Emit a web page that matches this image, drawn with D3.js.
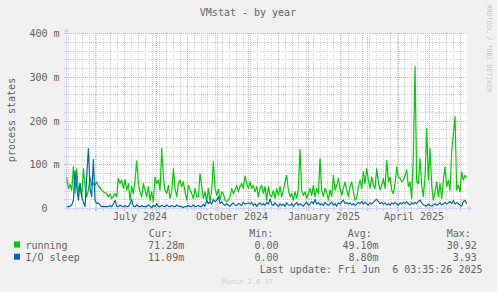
<!DOCTYPE html>
<html><head><meta charset="utf-8">
<script src="https://cdn.jsdelivr.net/npm/d3@7"></script>
<style>
html,body{margin:0;padding:0;background:#f0f0f0;}
svg{display:block;}
text{font-family:"DejaVu Sans Mono",monospace;fill:#666;white-space:pre;}
</style></head><body>
<svg id="c" width="497" height="292"></svg>
<script>
const chartTitle = "VMstat - by year";
const yAxisTitle = "process states";
const yMajorTicks = [0, 100, 200, 300, 400];
const yTickLabels = ["0", "100 m", "200 m", "300 m", "400 m"];
const xLabelMonths = ["2024-07-01", "2024-10-01", "2025-01-01", "2025-04-01"];
const xLabels = ["July 2024", "October 2024", "January 2025", "April 2025"];
const seriesNames = ["running", "I/O sleep"];
const seriesColors = ["#00cc00", "#0066b3"];
const curValues = ["71.28m", "11.09m"];
const minValues = ["0.00", "0.00"];
const avgValues = ["49.10m", "8.80m"];
const maxValues = ["30.92", "3.93"];
const lastUpdate = "Last update: Fri Jun  6 03:35:26 2025";
const watermark = "RRDTOOL / TOBI OETIKER";
const muninVersion = "Munin 2.0.37";

// sample time axis: first sample and spacing (hours)
const firstSample = "2024-05-03T17:00:00Z";
const sampleHours = 40;

// running processes (milli-units)
const running = [
72,46,55,42,95,35,91,38,57,26,
91,52,26,42,72,53,57,53,61,51,
48,42,38,36,34,27,33,23,27,34,
27,69,57,65,46,66,42,57,19,50,
34,65,109,57,38,27,57,42,27,50,
19,38,15,72,57,65,42,137,72,42,
34,53,23,38,91,46,27,57,65,50,
61,38,19,53,42,34,23,46,27,27,
80,50,23,38,15,46,15,42,107,46,
30,44,19,38,34,19,15,19,27,46,
34,42,53,38,50,57,46,74,57,46,
61,46,53,38,50,27,46,53,34,50,
19,50,30,27,42,23,46,30,50,27,
42,61,76,42,27,34,19,38,23,46,
135,42,30,38,23,34,46,30,53,27,
46,34,114,42,27,46,38,19,42,27,
76,42,53,69,46,30,46,61,42,27,
50,61,38,19,23,50,65,46,84,57,
91,65,46,72,53,46,91,61,42,53,
69,46,110,61,72,42,34,57,95,72,
69,61,65,76,88,50,61,23,120,325,
60,57,114,53,27,72,183,65,137,53,
19,38,61,27,57,23,65,95,50,65,
42,133,171,210,42,53,38,84,65,76,
71];

// I/O sleep (milli-units)
const ioSleep = [
5,4,5,8,19,86,50,19,57,27,
15,4,72,137,45,27,112,19,11,13,
8,4,5,4,5,4,7,4,10,19,
5,4,8,5,4,7,4,5,10,21,
5,4,8,5,4,7,4,5,4,8,
5,2,7,4,11,5,4,7,5,4,
8,5,4,7,5,4,8,5,5,4,
2,5,4,7,4,5,8,4,5,7,
4,5,10,5,19,11,15,10,21,15,
19,27,11,15,10,7,11,8,5,10,
13,8,7,11,10,7,14,10,11,13,
10,14,7,11,5,10,13,8,11,7,
14,10,22,10,7,13,8,5,11,7,
10,5,13,8,7,11,5,10,14,7,
11,8,5,11,14,7,10,16,11,21,
10,14,8,11,7,14,10,7,11,14,
8,11,5,13,10,16,19,11,14,10,
13,8,11,7,10,14,11,16,10,14,
11,8,13,10,14,18,21,16,11,14,
10,13,8,11,7,13,10,14,11,8,
13,10,14,11,16,11,8,13,10,14,
11,16,19,13,8,7,5,10,7,5,
8,11,7,10,13,8,11,14,10,13,
16,11,19,10,14,11,7,5,16,19,
11];

const svg = d3.select("#c");
const t0 = new Date(firstSample).getTime();
const dateAt = i => new Date(t0 + i * sampleHours * 3600e3);

const x = d3.scaleUtc()
  .domain([new Date(Date.UTC(2024, 4, 4)), new Date(Date.UTC(2025, 5, 8))])
  .range([67, 467]);
const y = d3.scaleLinear().domain([0, 400]).range([208.5, 33.5]);
const px = v => Math.round(v - 0.5) + 0.5;

// canvas
svg.append("rect").attr("x", 67).attr("y", 33).attr("width", 400).attr("height", 176).attr("fill", "#fff");

const grid = svg.append("g");
const minorCol = "#d2d2d2";
const majorCol = "#f0a8a8";

// horizontal minor grid
d3.range(0, 401, 20).filter(v => v % 100 !== 0).forEach(v => {
  const yy = px(y(v));
  grid.append("line").attr("x1", 64).attr("x2", 67).attr("y1", yy).attr("y2", yy).attr("stroke", minorCol);
  grid.append("line").attr("x1", 67).attr("x2", 467).attr("y1", yy).attr("y2", yy)
    .attr("stroke", minorCol).attr("stroke-dasharray", "1,1");
});
// vertical minor grid (weekly)
const [d0, d1] = x.domain();
d3.utcSunday.range(d0, d1).forEach(d => {
  const xx = px(x(d));
  grid.append("line").attr("x1", xx).attr("x2", xx).attr("y1", 208).attr("y2", 211).attr("stroke", minorCol);
  grid.append("line").attr("x1", xx).attr("x2", xx).attr("y1", 33).attr("y2", 208)
    .attr("stroke", minorCol).attr("stroke-dasharray", "1,1");
});
// vertical major grid (monthly)
d3.utcMonth.range(d0, d1).forEach(d => {
  const xx = px(x(d));
  grid.append("line").attr("x1", xx).attr("x2", xx).attr("y1", 208).attr("y2", 211).attr("stroke", majorCol);
  grid.append("line").attr("x1", xx).attr("x2", xx).attr("y1", 33).attr("y2", 208)
    .attr("stroke", majorCol).attr("stroke-dasharray", "1,1");
});
// horizontal major grid
yMajorTicks.forEach(v => {
  const yy = px(y(v));
  grid.append("line").attr("x1", 64).attr("x2", 67).attr("y1", yy).attr("y2", yy).attr("stroke", majorCol);
  grid.append("line").attr("x1", 67).attr("x2", 467).attr("y1", yy).attr("y2", yy)
    .attr("stroke", majorCol).attr("stroke-dasharray", "1,1");
});

// axes
const axisCol = "#CFD6F8";
svg.append("line").attr("x1", 66.5).attr("x2", 66.5).attr("y1", 210).attr("y2", 29).attr("stroke", axisCol);
svg.append("polygon").attr("points", "63.5,32 69.5,32 66.5,27").attr("fill", axisCol);
svg.append("line").attr("x1", 63).attr("x2", 470).attr("y1", 208.5).attr("y2", 208.5).attr("stroke", axisCol);
svg.append("polygon").attr("points", "468,205.5 468,211.5 473,208.5").attr("fill", axisCol);

// y labels
yMajorTicks.forEach((v, i) => {
  const lab = yTickLabels[i];
  svg.append("text").attr("x", lab.indexOf(" ") < 0 ? 47.5 : 59.5).attr("y", px(y(v)) + 3.5)
    .attr("text-anchor", "end").attr("font-size", 10).text(lab);
});
// x labels (centered half a month after tick)
xLabelMonths.forEach((m, i) => {
  const d = new Date(m + "T00:00:00Z");
  const c = new Date(d.getTime() + 15 * 86400e3);
  svg.append("text").attr("x", x(c)).attr("y", 219.5).attr("text-anchor", "middle")
    .attr("font-size", 10).text(xLabels[i]);
});

// series
const line = d3.line().x((d, i) => x(dateAt(i))).y(d => y(d));
[running, ioSleep].forEach((s, k) => {
  svg.append("path").datum(s).attr("d", line).attr("fill", "none")
    .attr("stroke", seriesColors[k]).attr("stroke-width", 1.2).attr("stroke-linejoin", "round");
});

// titles
svg.append("text").attr("x", 248).attr("y", 16).attr("text-anchor", "middle").attr("font-size", 10).text(chartTitle);
svg.append("text").attr("transform", "translate(15,120) rotate(-90)").attr("text-anchor", "middle")
  .attr("font-size", 10).text(yAxisTitle);
svg.append("text").attr("transform", "translate(487,48.5) rotate(90)").attr("text-anchor", "middle")
  .attr("font-size", 6.6).style("fill", "#c4c4c4").text(watermark);

// legend
const hdrY = 236.5;
svg.append("text").attr("x", 148.7).attr("y", hdrY).attr("font-size", 10).text("Cur:");
svg.append("text").attr("x", 249.3).attr("y", hdrY).attr("font-size", 10).text("Min:");
svg.append("text").attr("x", 347.7).attr("y", hdrY).attr("font-size", 10).text("Avg:");
svg.append("text").attr("x", 446.7).attr("y", hdrY).attr("font-size", 10).text("Max:");
seriesNames.forEach((n, k) => {
  const by = 249 + k * 12.2;
  svg.append("rect").attr("x", 14).attr("y", by - 7.5).attr("width", 6).attr("height", 6).attr("fill", seriesColors[k]);
  svg.append("text").attr("x", 25.5).attr("y", by).attr("font-size", 10).text(n);
  svg.append("text").attr("x", 184.2).attr("y", by).attr("text-anchor", "end").attr("font-size", 10).text(curValues[k]);
  svg.append("text").attr("x", 278.5).attr("y", by).attr("text-anchor", "end").attr("font-size", 10).text(minValues[k]);
  svg.append("text").attr("x", 378.5).attr("y", by).attr("text-anchor", "end").attr("font-size", 10).text(avgValues[k]);
  svg.append("text").attr("x", 476.8).attr("y", by).attr("text-anchor", "end").attr("font-size", 10).text(maxValues[k]);
});
svg.append("text").attr("x", 482.5).attr("y", 272.5).attr("text-anchor", "end").attr("font-size", 10).text(lastUpdate);
svg.append("text").attr("x", 247.5).attr("y", 284).attr("text-anchor", "middle").attr("font-size", 7)
  .style("fill", "#cfcfcf").text(muninVersion);
</script>
</body></html>
